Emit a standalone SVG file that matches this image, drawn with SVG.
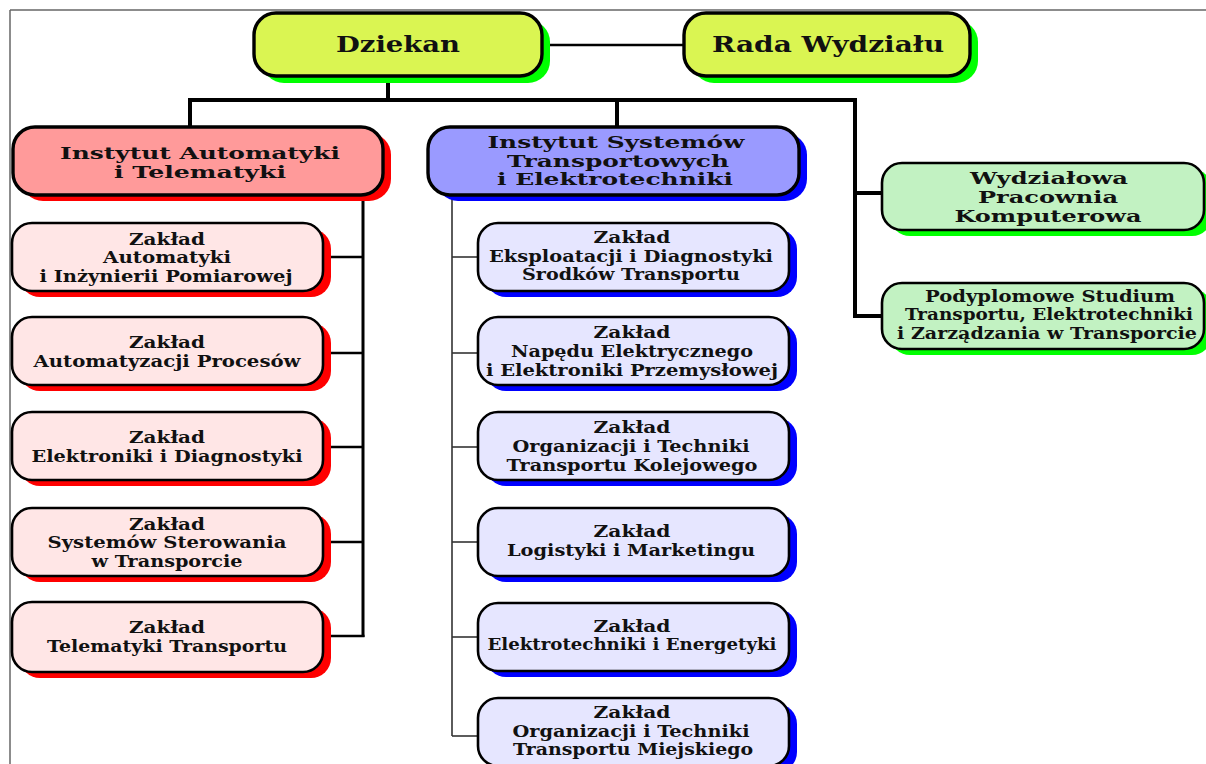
<svg xmlns="http://www.w3.org/2000/svg" width="1206" height="764" viewBox="0 0 1206 764">
<style>
text{font-family:"DejaVu Serif","Liberation Serif",serif;font-weight:bold;fill:#111;text-anchor:middle}
.t1{font-size:22px}
.t2{font-size:17px}
.t3{font-size:16px}
.box{stroke:#000;stroke-width:2.6}
.big{stroke:#000;stroke-width:3.4}
.yel{fill:#DAF552}
.red{fill:#FF9A9A}
.blu{fill:#9A9AFF}
.pnk{fill:#FFE6E6}
.lav{fill:#E6E6FF}
.grn{fill:#C2F2C2}
.sg{fill:#00FF00}
.sr{fill:#FF0000}
.sb{fill:#0000FF}
.thick{stroke:#000;stroke-width:4;fill:none}
.mid{stroke:#000;stroke-width:2.6;fill:none}
.thin{stroke:#333;stroke-width:1.6;fill:none}
</style>
<rect width="1206" height="764" fill="#fff"/>
<g id="frame" stroke="#666" stroke-width="1.5">
<line x1="10" y1="10" x2="1206" y2="10"/>
<line x1="10" y1="10" x2="10" y2="764"/>
</g>
<g id="connectors">
<line class="mid" x1="542" y1="45" x2="684" y2="45"/>
<polyline class="thick" points="388,76 388,100"/>
<polyline class="thick" points="190,127 190,100 855,100 855,316 882,316"/>
<line class="thick" x1="617" y1="100" x2="617" y2="127"/>
<line class="thick" x1="855" y1="193" x2="882" y2="193"/>
<line stroke="#000" stroke-width="3" x1="363" y1="195" x2="363" y2="637"/>
<line class="mid" x1="323" y1="257" x2="363" y2="257"/>
<line class="mid" x1="323" y1="353" x2="363" y2="353"/>
<line class="mid" x1="323" y1="447" x2="363" y2="447"/>
<line class="mid" x1="323" y1="542" x2="363" y2="542"/>
<line class="mid" x1="323" y1="636" x2="364.5" y2="636"/>
<line class="thin" x1="452" y1="195" x2="452" y2="736"/>
<line class="thin" x1="452" y1="257" x2="478" y2="257"/>
<line class="thin" x1="452" y1="353" x2="478" y2="353"/>
<line class="thin" x1="452" y1="447" x2="478" y2="447"/>
<line class="thin" x1="452" y1="542" x2="478" y2="542"/>
<line class="thin" x1="452" y1="637" x2="478" y2="637"/>
<line class="thin" x1="452" y1="736" x2="478" y2="736"/>
</g>
<g id="dziekan">
<rect class="sg" x="262" y="20" width="288" height="63" rx="22"/>
<rect class="big yel" x="254" y="13" width="288" height="63" rx="22"/>
<text class="t1" x="398" y="52" textLength="124" lengthAdjust="spacingAndGlyphs">Dziekan</text>
</g>
<g id="rada">
<rect class="sg" x="692" y="20" width="286" height="63" rx="22"/>
<rect class="big yel" x="684" y="13" width="286" height="63" rx="22"/>
<text class="t1" x="828" y="52" textLength="232" lengthAdjust="spacingAndGlyphs">Rada Wydziału</text>
</g>
<g id="inst-automatyki">
<rect class="sr" x="21" y="133" width="370" height="68" rx="22"/>
<rect class="big red" x="13" y="127" width="370" height="68" rx="22"/>
<text class="t2" x="200" y="159" textLength="280" lengthAdjust="spacingAndGlyphs">Instytut Automatyki</text>
<text class="t2" x="200" y="178" textLength="172" lengthAdjust="spacingAndGlyphs">i Telematyki</text>
</g>
<g id="inst-systemow">
<rect class="sb" x="436" y="133" width="371" height="68" rx="22"/>
<rect class="big blu" x="428" y="127" width="371" height="68" rx="22"/>
<text class="t2" x="616" y="148" textLength="257" lengthAdjust="spacingAndGlyphs">Instytut Systemów</text>
<text class="t2" x="618" y="166.5" textLength="222" lengthAdjust="spacingAndGlyphs">Transportowych</text>
<text class="t2" x="615" y="185" textLength="236" lengthAdjust="spacingAndGlyphs">i Elektrotechniki</text>
</g>
<g id="z-automatyki">
<rect class="sr" x="20" y="229" width="311" height="68" rx="20"/>
<rect class="box pnk" x="12" y="223" width="311" height="68" rx="20"/>
<text class="t3" x="167" y="245" textLength="76" lengthAdjust="spacingAndGlyphs">Zakład</text>
<text class="t3" x="167" y="263" textLength="128" lengthAdjust="spacingAndGlyphs">Automatyki</text>
<text class="t3" x="166" y="282" textLength="253" lengthAdjust="spacingAndGlyphs">i Inżynierii Pomiarowej</text>
</g>
<g id="z-procesow">
<rect class="sr" x="20" y="323" width="311" height="68" rx="20"/>
<rect class="box pnk" x="12" y="317" width="311" height="68" rx="20"/>
<text class="t3" x="167" y="348" textLength="76" lengthAdjust="spacingAndGlyphs">Zakład</text>
<text class="t3" x="167" y="367" textLength="267" lengthAdjust="spacingAndGlyphs">Automatyzacji Procesów</text>
</g>
<g id="z-elektroniki">
<rect class="sr" x="20" y="418" width="311" height="68" rx="20"/>
<rect class="box pnk" x="12" y="412" width="311" height="68" rx="20"/>
<text class="t3" x="167" y="443" textLength="76" lengthAdjust="spacingAndGlyphs">Zakład</text>
<text class="t3" x="167" y="462" textLength="271" lengthAdjust="spacingAndGlyphs">Elektroniki i Diagnostyki</text>
</g>
<g id="z-sterowania">
<rect class="sr" x="20" y="514" width="311" height="68" rx="20"/>
<rect class="box pnk" x="12" y="508" width="311" height="68" rx="20"/>
<text class="t3" x="167" y="530" textLength="76" lengthAdjust="spacingAndGlyphs">Zakład</text>
<text class="t3" x="167" y="548" textLength="239" lengthAdjust="spacingAndGlyphs">Systemów Sterowania</text>
<text class="t3" x="167" y="567" textLength="151" lengthAdjust="spacingAndGlyphs">w Transporcie</text>
</g>
<g id="z-telematyki">
<rect class="sr" x="20" y="608" width="311" height="70" rx="20"/>
<rect class="box pnk" x="12" y="602" width="311" height="70" rx="20"/>
<text class="t3" x="167" y="633" textLength="76" lengthAdjust="spacingAndGlyphs">Zakład</text>
<text class="t3" x="167" y="652" textLength="240" lengthAdjust="spacingAndGlyphs">Telematyki Transportu</text>
</g>
<g id="z-eksploatacji">
<rect class="sb" x="486" y="229" width="311" height="68" rx="20"/>
<rect class="box lav" x="478" y="223" width="311" height="68" rx="20"/>
<text class="t3" x="632" y="243" textLength="77" lengthAdjust="spacingAndGlyphs">Zakład</text>
<text class="t3" x="631" y="262" textLength="284" lengthAdjust="spacingAndGlyphs">Eksploatacji i Diagnostyki</text>
<text class="t3" x="631" y="280" textLength="218" lengthAdjust="spacingAndGlyphs">Środków Transportu</text>
</g>
<g id="z-napedu">
<rect class="sb" x="486" y="323" width="311" height="68" rx="20"/>
<rect class="box lav" x="478" y="317" width="311" height="68" rx="20"/>
<text class="t3" x="632" y="338" textLength="77" lengthAdjust="spacingAndGlyphs">Zakład</text>
<text class="t3" x="632" y="357" textLength="242" lengthAdjust="spacingAndGlyphs">Napędu Elektrycznego</text>
<text class="t3" x="632" y="376" textLength="292" lengthAdjust="spacingAndGlyphs">i Elektroniki Przemysłowej</text>
</g>
<g id="z-kolejowego">
<rect class="sb" x="486" y="418" width="311" height="68" rx="20"/>
<rect class="box lav" x="478" y="412" width="311" height="68" rx="20"/>
<text class="t3" x="632" y="433" textLength="77" lengthAdjust="spacingAndGlyphs">Zakład</text>
<text class="t3" x="631" y="452" textLength="237" lengthAdjust="spacingAndGlyphs">Organizacji i Techniki</text>
<text class="t3" x="632" y="471" textLength="251" lengthAdjust="spacingAndGlyphs">Transportu Kolejowego</text>
</g>
<g id="z-logistyki">
<rect class="sb" x="486" y="514" width="311" height="68" rx="20"/>
<rect class="box lav" x="478" y="508" width="311" height="68" rx="20"/>
<text class="t3" x="632" y="537" textLength="77" lengthAdjust="spacingAndGlyphs">Zakład</text>
<text class="t3" x="631" y="556" textLength="248" lengthAdjust="spacingAndGlyphs">Logistyki i Marketingu</text>
</g>
<g id="z-energetyki">
<rect class="sb" x="486" y="609" width="311" height="68" rx="20"/>
<rect class="box lav" x="478" y="603" width="311" height="68" rx="20"/>
<text class="t3" x="632" y="632" textLength="77" lengthAdjust="spacingAndGlyphs">Zakład</text>
<text class="t3" x="632" y="650" textLength="289" lengthAdjust="spacingAndGlyphs">Elektrotechniki i Energetyki</text>
</g>
<g id="z-miejskiego">
<rect class="sb" x="486" y="704" width="311" height="68" rx="20"/>
<rect class="box lav" x="478" y="698" width="311" height="68" rx="20"/>
<text class="t3" x="632" y="718" textLength="77" lengthAdjust="spacingAndGlyphs">Zakład</text>
<text class="t3" x="631" y="737" textLength="237" lengthAdjust="spacingAndGlyphs">Organizacji i Techniki</text>
<text class="t3" x="633" y="755" textLength="240" lengthAdjust="spacingAndGlyphs">Transportu Miejskiego</text>
</g>
<g id="pracownia">
<rect class="sg" x="890" y="169" width="322" height="67" rx="20"/>
<rect class="box grn" x="882" y="163" width="322" height="67" rx="20"/>
<text class="t3" x="1049" y="184" textLength="158" lengthAdjust="spacingAndGlyphs">Wydziałowa</text>
<text class="t3" x="1048" y="203" textLength="140" lengthAdjust="spacingAndGlyphs">Pracownia</text>
<text class="t3" x="1048" y="222" textLength="187" lengthAdjust="spacingAndGlyphs">Komputerowa</text>
</g>
<g id="studium">
<rect class="sg" x="890" y="289" width="322" height="66" rx="20"/>
<rect class="box grn" x="882" y="283" width="322" height="66" rx="20"/>
<text class="t3" x="1050" y="302" textLength="250" lengthAdjust="spacingAndGlyphs">Podyplomowe Studium</text>
<text class="t3" x="1049" y="320" textLength="288" lengthAdjust="spacingAndGlyphs">Transportu, Elektrotechniki</text>
<text class="t3" x="1047" y="339" textLength="300" lengthAdjust="spacingAndGlyphs">i Zarządzania w Transporcie</text>
</g>
</svg>
